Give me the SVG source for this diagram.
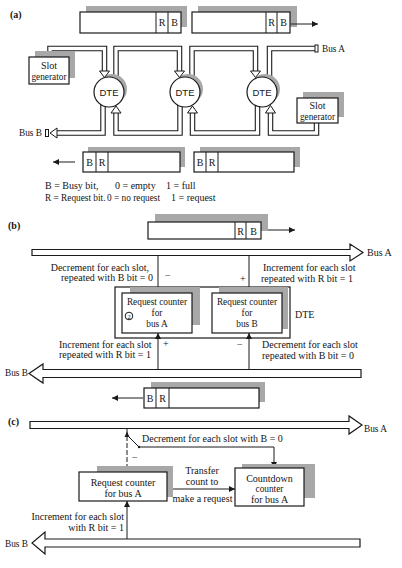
<svg xmlns="http://www.w3.org/2000/svg" width="402" height="568" viewBox="0 0 402 568">
<defs>
<marker id="ah" viewBox="0 0 10 10" refX="10" refY="5" markerWidth="7" markerHeight="6" markerUnits="userSpaceOnUse" orient="auto"><path d="M0,0 L10,5 L0,10 z" fill="#1a1a1a"/></marker>
<style>
.t{font-family:"Liberation Serif","Times New Roman",serif;font-size:10px;fill:#151515}
.s{font-size:9.3px}
.m{text-anchor:middle}
.e{text-anchor:end}
.d{font-family:"Liberation Sans",Arial,sans-serif;font-size:9.5px;fill:#151515;text-anchor:middle}
.lab{font-family:"Liberation Serif",serif;font-size:10px;font-weight:bold;fill:#151515}
.box{fill:#fff;stroke:#1a1a1a;stroke-width:1.2}
.sh{fill:#a8a8a8}
.ln{fill:none;stroke:#1a1a1a;stroke-width:1}
.bo{fill:none;stroke:#1a1a1a;stroke-width:5.5;stroke-linejoin:miter}
.bi{fill:none;stroke:#fff;stroke-width:3.3;stroke-linejoin:miter}
.oh{fill:#fff;stroke:#1a1a1a;stroke-width:1}
.hb{fill:#fff;stroke:#1a1a1a;stroke-width:1.2;stroke-linejoin:miter}
</style>
</defs>

<!-- ===== (a) ===== -->
<text class="lab" x="10" y="18">(a)</text>

<g id="a-slot-top-1">
<rect class="sh" x="86" y="6" width="101" height="21"/>
<rect class="box" x="80" y="12" width="101" height="21"/>
<line class="ln" x1="156" y1="12" x2="156" y2="33"/><line class="ln" x1="168" y1="12" x2="168" y2="33"/>
<text class="t m" x="162" y="26">R</text><text class="t m" x="174.5" y="26">B</text>
</g>
<g id="a-slot-top-2">
<rect class="sh" x="198" y="6" width="99" height="21"/>
<rect class="box" x="192" y="12" width="98" height="21"/>
<line class="ln" x1="266" y1="12" x2="266" y2="33"/><line class="ln" x1="277" y1="12" x2="277" y2="33"/>
<text class="t m" x="271.5" y="26">R</text><text class="t m" x="283.5" y="26">B</text>
</g>

<g id="a-connectors">
<line class="ln" x1="291" y1="24" x2="318" y2="24" marker-end="url(#ah)"/>
<!-- Bus A -->
<path class="bo" d="M50,57 V48.5 H104.5 V71"/><path class="bi" d="M50,57 V48.5 H104.5 V71"/>
<path class="bo" d="M116,80 V48.5 H179.5 V71"/><path class="bi" d="M116,80 V48.5 H179.5 V71"/>
<path class="bo" d="M192,80 V48.5 H255.5 V71"/><path class="bi" d="M192,80 V48.5 H255.5 V71"/>
<path class="bo" d="M269.5,80 V48.5 H315"/><path class="bi" d="M269.5,80 V48.5 H316"/>
<rect class="oh" x="315" y="45" width="3" height="7"/>
<!-- Bus B -->
<path class="bo" d="M316.5,123 V133 H270.5 V113"/><path class="bi" d="M316.5,123 V133 H270.5 V113"/>
<path class="bo" d="M257.5,104 V133 H192.5 V113"/><path class="bi" d="M257.5,104 V133 H192.5 V113"/>
<path class="bo" d="M180,104 V133 H116 V113"/><path class="bi" d="M180,104 V133 H116 V113"/>
<path class="bo" d="M103,104 V133 H57"/><path class="bi" d="M103,104 V133 H56"/>
<rect class="oh" x="45.5" y="129.5" width="3" height="7"/>
<line class="ln" x1="75" y1="162" x2="53" y2="162" marker-end="url(#ah)"/>
</g>

<g id="a-slot-gen-1">
<rect class="sh" x="35" y="51" width="40" height="27"/>
<rect class="box" x="29" y="57" width="40" height="27"/>
<text class="t m" x="49" y="69">Slot</text><text class="t s m" x="49" y="80">generator</text>
</g>
<g id="a-slot-gen-2">
<rect class="sh" x="303" y="92" width="41" height="25"/>
<rect class="box" x="297" y="98" width="41" height="25"/>
<text class="t m" x="317.5" y="109">Slot</text><text class="t s m" x="317.5" y="120">generator</text>
</g>

<g id="a-dte-1">
<circle class="sh" cx="112" cy="89" r="15"/>
<circle class="box" cx="109" cy="92" r="15"/>
<text class="d" x="109" y="95.5">DTE</text>
</g>
<g id="a-dte-2">
<circle class="sh" cx="188" cy="89" r="15"/>
<circle class="box" cx="185" cy="92" r="15"/>
<text class="d" x="185" y="95.5">DTE</text>
</g>
<g id="a-dte-3">
<circle class="sh" cx="265" cy="89" r="15"/>
<circle class="box" cx="262" cy="92" r="15"/>
<text class="d" x="262" y="95.5">DTE</text>
</g>

<g id="a-heads">
<path class="oh" d="M99.5,71 H109.5 L104.5,77.5 z"/>
<path class="oh" d="M174.5,71 H184.5 L179.5,77.5 z"/>
<path class="oh" d="M250.5,71 H260.5 L255.5,77.5 z"/>
<path class="oh" d="M265.5,113 H275.5 L270.5,105.5 z"/>
<path class="oh" d="M187.5,113 H197.5 L192.5,106 z"/>
<path class="oh" d="M111,113 H121 L116,106 z"/>
<path class="oh" d="M57,128 V138 L50,133 z"/>
</g>
<text class="t s" x="322" y="52">Bus A</text>
<text class="t s" x="19" y="136">Bus B</text>

<g id="a-slot-bot-1">
<rect class="sh" x="88" y="147" width="97" height="20"/>
<rect class="box" x="83" y="152" width="97" height="20"/>
<line class="ln" x1="96" y1="152" x2="96" y2="172"/><line class="ln" x1="108" y1="152" x2="108" y2="172"/>
<text class="t m" x="89.5" y="165.5">B</text><text class="t m" x="102" y="165.5">R</text>
</g>
<g id="a-slot-bot-2">
<rect class="sh" x="200" y="147" width="100" height="20"/>
<rect class="box" x="194" y="152" width="100" height="20"/>
<line class="ln" x1="206" y1="152" x2="206" y2="172"/><line class="ln" x1="218" y1="152" x2="218" y2="172"/>
<text class="t m" x="200" y="165.5">B</text><text class="t m" x="212" y="165.5">R</text>
</g>

<g id="a-legend">
<text class="t" x="45" y="189">B = Busy bit,</text>
<text class="t" x="115" y="189">0 = empty</text>
<text class="t" x="166" y="189">1 = full</text>
<text class="t s" x="45" y="201">R = Request bit.</text>
<text class="t s" x="107" y="201">0 = no request</text>
<text class="t" x="171" y="201">1 = request</text>
</g>

<!-- ===== (b) ===== -->
<text class="lab" x="8" y="229">(b)</text>

<g id="b-slot-top">
<rect class="sh" x="155" y="214" width="113" height="17"/>
<rect class="box" x="148" y="222" width="113" height="17"/>
<line class="ln" x1="235" y1="222" x2="235" y2="239"/><line class="ln" x1="246" y1="222" x2="246" y2="239"/>
<text class="t m" x="240.5" y="234.5">R</text><text class="t m" x="253.5" y="234.5">B</text>
</g>

<g id="b-connectors">
<line class="ln" x1="268" y1="230" x2="295" y2="230" marker-end="url(#ah)"/>
<polygon class="hb" points="32,249.5 350,249.5 350,244 363,252.5 350,261 350,255.5 32,255.5"/>
<line class="ln" x1="158" y1="256" x2="158" y2="293" marker-end="url(#ah)"/>
<line class="ln" x1="249" y1="256" x2="249" y2="293" marker-end="url(#ah)"/>
<line class="ln" x1="158" y1="369" x2="158" y2="333" marker-end="url(#ah)"/>
<line class="ln" x1="249" y1="369" x2="249" y2="333" marker-end="url(#ah)"/>
<polygon class="hb" points="361,369.5 43,369.5 43,364 29,373.5 43,383 43,377.5 361,377.5"/>
<line class="ln" x1="143" y1="398" x2="112" y2="398" marker-end="url(#ah)"/>
</g>
<text class="t" x="367" y="256">Bus  A</text>
<text class="t s" x="5" y="376">Bus B</text>

<g id="b-labels">
<text class="t e" x="149" y="271">Decrement for each slot,</text>
<text class="t e" x="153" y="281">repeated with B bit = 0</text>
<text class="t" x="165" y="279">−</text>
<text class="t" x="240" y="282">+</text>
<text class="t" x="263" y="271">Increment for each slot</text>
<text class="t" x="261" y="282">repeated with R bit = 1</text>
<text class="t" x="59" y="348">Increment for each slot</text>
<text class="t" x="59" y="358">repeated with R bit = 1</text>
<text class="t" x="163" y="347">+</text>
<text class="t" x="237" y="348">−</text>
<text class="t" x="262" y="348">Decrement for each slot</text>
<text class="t" x="262" y="359">repeated with B bit = 0</text>
</g>

<g id="b-dte">
<rect class="box" x="115" y="287" width="175" height="51" style="fill:none"/>
<text class="t" x="295" y="318">DTE</text>
</g>
<g id="b-counter-a">
<rect class="sh" x="130" y="287" width="70" height="38"/>
<rect class="box" x="122" y="293" width="70" height="40"/>
<text class="t s m" x="157" y="305">Request counter</text>
<text class="t s m" x="157" y="316">for</text>
<text class="t s m" x="157" y="327">bus A</text>
<circle class="ln" cx="129" cy="316" r="3.8"/>
<text class="t m" x="129" y="318.5" style="font-size:6.5px">2</text>
</g>
<g id="b-counter-b">
<rect class="sh" x="219" y="287" width="69" height="42"/>
<rect class="box" x="212" y="293" width="70" height="40"/>
<text class="t s m" x="247" y="305">Request counter</text>
<text class="t s m" x="247" y="316">for</text>
<text class="t s m" x="247" y="327">bus B</text>
</g>

<g id="b-slot-bot">
<rect class="sh" x="151" y="382" width="114" height="20"/>
<rect class="box" x="144" y="388" width="115" height="20"/>
<line class="ln" x1="156" y1="388" x2="156" y2="408"/><line class="ln" x1="169" y1="388" x2="169" y2="408"/>
<text class="t m" x="150" y="401.5">B</text><text class="t m" x="162.5" y="401.5">R</text>
</g>

<!-- ===== (c) ===== -->
<text class="lab" x="8" y="425">(c)</text>

<g id="c-connectors">
<polygon class="hb" points="30,421.5 349,421.5 349,416 362,425 349,434 349,428.5 30,428.5"/>
<line class="ln" x1="127" y1="429" x2="127" y2="472" stroke-dasharray="5,2" marker-end="url(#ah)"/>
<path d="M124.5,437 L127,431.5 L129.5,437 z" fill="#1a1a1a"/>
<line class="ln" x1="129" y1="437" x2="139" y2="447"/>
<circle cx="139" cy="447" r="1.2" fill="#1a1a1a"/>
<path class="ln" d="M139,447 H274 V468" marker-end="url(#ah)"/>
<line class="ln" x1="167" y1="489" x2="235" y2="489" marker-end="url(#ah)"/>
<line class="ln" x1="127" y1="539" x2="127" y2="501" marker-end="url(#ah)"/>
<polygon class="hb" points="360,539 45,539 45,532 32,543 45,554 45,547 360,547"/>
</g>
<text class="t s" x="364" y="432">Bus A</text>
<text class="t s" x="5" y="547">Bus B</text>

<g id="c-labels">
<text class="t" x="142" y="442">Decrement for each slot with B = 0</text>
<text class="t" x="132" y="461">−</text>
<text class="t m" x="202" y="474">Transfer</text>
<text class="t m" x="202" y="485">count to</text>
<text class="t m" x="202.5" y="502">make a request</text>
<text class="t e" x="124" y="520">Increment for each slot</text>
<text class="t e" x="124" y="531">with R bit = 1</text>
</g>

<g id="c-counter-a">
<rect class="sh" x="97" y="466" width="76" height="31"/>
<rect class="box" x="79" y="472" width="88" height="29"/>
<text class="t m" x="123" y="486">Request counter</text>
<text class="t m" x="123" y="497">for bus A</text>
</g>
<g id="c-countdown">
<rect class="sh" x="242" y="464" width="73" height="34"/>
<rect class="box" x="235" y="468" width="69" height="38"/>
<text class="t m" x="269.5" y="482">Countdown</text>
<text class="t s m" x="269.5" y="492">counter</text>
<text class="t m" x="269.5" y="503">for bus A</text>
</g>
</svg>
